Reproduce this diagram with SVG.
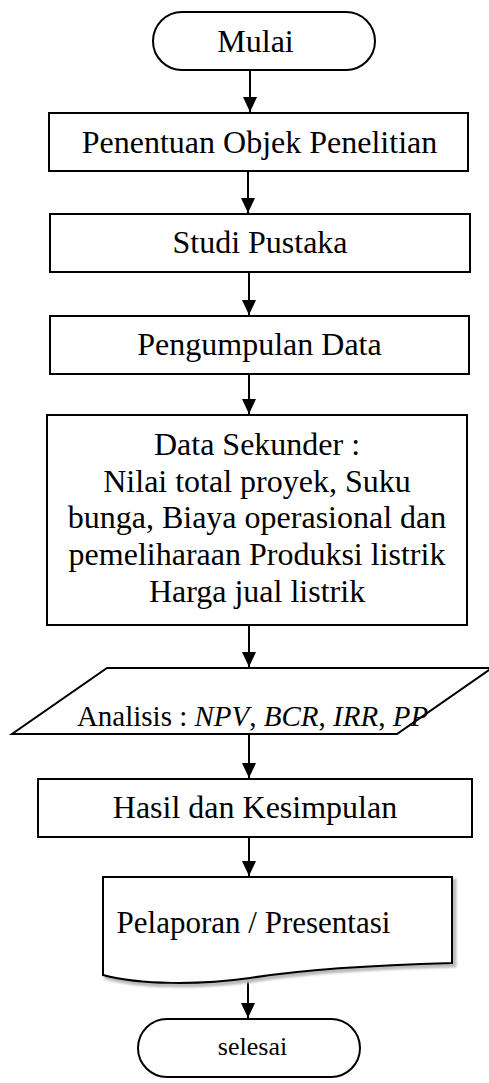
<svg xmlns="http://www.w3.org/2000/svg" width="489" height="1083" viewBox="0 0 489 1083">
<style>
.s{fill:#fff;stroke:#000;stroke-width:2}
.t{font-family:"Liberation Serif","Times New Roman",serif;font-size:32px;fill:#000;text-anchor:middle}
.c{stroke:#000;stroke-width:2;fill:none;marker-end:url(#ah)}
</style>
<defs>
<marker id="ah" markerUnits="userSpaceOnUse" markerWidth="16" markerHeight="14" refX="15" refY="7" orient="auto">
<path d="M0,0 L15,7 L0,14 Z" fill="#000"/>
</marker>
<filter id="sh" x="-5%" y="-5%" width="110%" height="115%"><feGaussianBlur stdDeviation="1.2"/></filter>
</defs>
<rect width="489" height="1083" fill="#fff"/>
<g id="connectors">
<line class="c" x1="250" y1="70" x2="250" y2="112"/>
<line class="c" x1="248" y1="171" x2="248" y2="213"/>
<line class="c" x1="249" y1="272" x2="249" y2="315"/>
<line class="c" x1="249" y1="374" x2="249" y2="414"/>
<line class="c" x1="249" y1="625" x2="249" y2="667"/>
<line class="c" x1="249" y1="734" x2="249" y2="778"/>
<line class="c" x1="249" y1="837" x2="249" y2="876"/>
<line class="c" x1="248" y1="978" x2="248" y2="1018"/>
</g>
<g id="mulai">
<rect class="s" x="153" y="12" width="222" height="58" rx="29" ry="29"/>
<text class="t" x="255.5" y="52">Mulai</text>
</g>
<g id="penentuan">
<rect class="s" x="49" y="113" width="419" height="58"/>
<text class="t" x="259.5" y="153">Penentuan Objek Penelitian</text>
</g>
<g id="studi">
<rect class="s" x="50" y="214" width="420" height="58"/>
<text class="t" x="260" y="253">Studi Pustaka</text>
</g>
<g id="pengumpulan">
<rect class="s" x="50" y="316" width="419" height="58"/>
<text class="t" x="259.5" y="355">Pengumpulan Data</text>
</g>
<g id="data">
<rect class="s" x="47" y="415" width="420" height="210"/>
<text class="t" x="257" y="455">Data Sekunder :</text>
<text class="t" x="257" y="492">Nilai total proyek, Suku</text>
<text class="t" x="257" y="528">bunga, Biaya operasional dan</text>
<text class="t" x="257" y="565">pemeliharaan Produksi listrik</text>
<text class="t" x="257" y="602">Harga jual listrik</text>
</g>
<g id="analisis">
<polygon class="s" points="107,668 492,668 397,734 12,734"/>
<text class="t" x="252.5" y="726" style="font-size:29px">Analisis : <tspan font-style="italic">NPV</tspan>, <tspan font-style="italic">BCR</tspan>, <tspan font-style="italic">IRR</tspan>, <tspan font-style="italic">PP</tspan></text>
</g>
<g id="hasil">
<rect class="s" x="38" y="779" width="434" height="58"/>
<text class="t" x="255" y="818">Hasil dan Kesimpulan</text>
</g>
<g id="pelaporan">
<path d="M106,880 H455 V966 C380,968 300,973 253,981 C200,988 140,988 106,978 Z" fill="#bbb" stroke="#bbb" stroke-width="3" filter="url(#sh)"/>
<path class="s" d="M103,877 H452 V963 C380,965 300,970 250,978 C200,985 140,985 103,975 Z"/>
<text class="t" x="253.5" y="933" style="font-size:31px">Pelaporan / Presentasi</text>
</g>
<g id="selesai">
<rect class="s" x="138" y="1019" width="222" height="58" rx="29" ry="29"/>
<text class="t" x="252.5" y="1055" style="font-size:26px">selesai</text>
</g>
</svg>
